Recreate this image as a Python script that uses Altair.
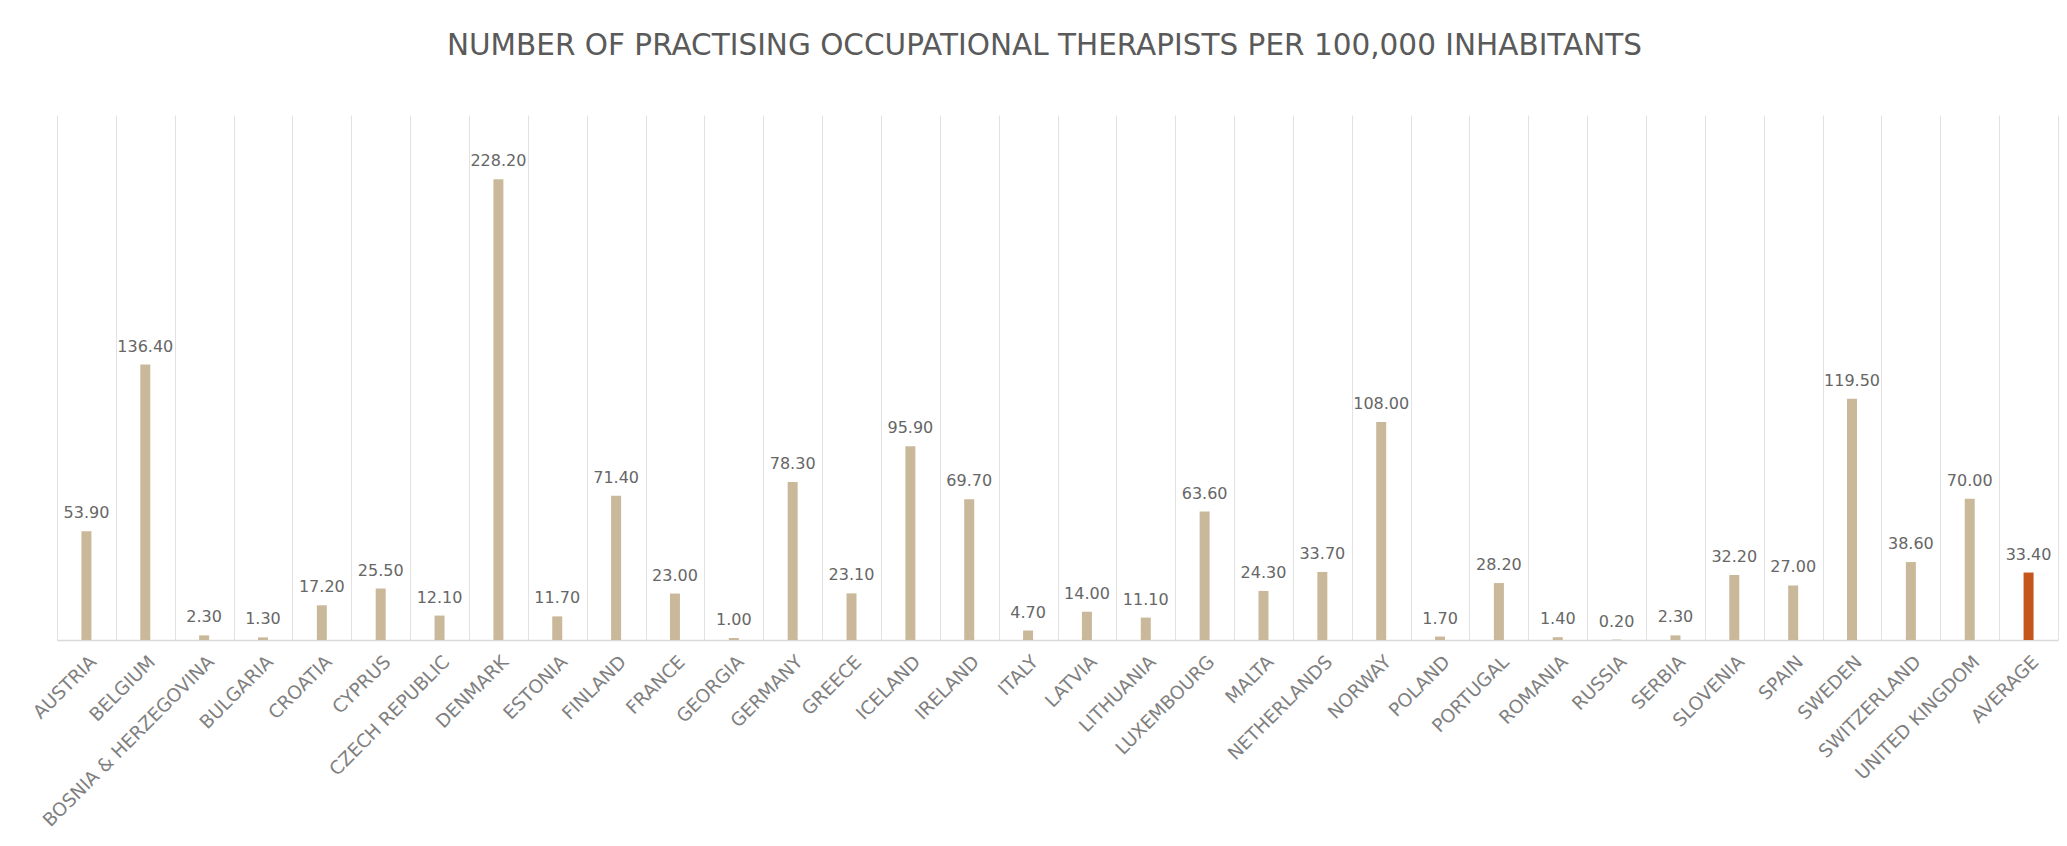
import altair as alt
import pandas as pd

countries = ["AUSTRIA", "BELGIUM", "BOSNIA & HERZEGOVINA", "BULGARIA", "CROATIA", "CYPRUS",
             "CZECH REPUBLIC", "DENMARK", "ESTONIA", "FINLAND", "FRANCE", "GEORGIA", "GERMANY",
             "GREECE", "ICELAND", "IRELAND", "ITALY", "LATVIA", "LITHUANIA", "LUXEMBOURG",
             "MALTA", "NETHERLANDS", "NORWAY", "POLAND", "PORTUGAL", "ROMANIA", "RUSSIA",
             "SERBIA", "SLOVENIA", "SPAIN", "SWEDEN", "SWITZERLAND", "UNITED KINGDOM", "AVERAGE"]
values = [53.9, 136.4, 2.3, 1.3, 17.2, 25.5, 12.1, 228.2, 11.7, 71.4, 23.0, 1.0, 78.3,
          23.1, 95.9, 69.7, 4.7, 14.0, 11.1, 63.6, 24.3, 33.7, 108.0, 1.7, 28.2, 1.4, 0.2,
          2.3, 32.2, 27.0, 119.5, 38.6, 70.0, 33.4]
kinds = ["country"] * 33 + ["average"]

df = pd.DataFrame({"country": countries, "value": values, "kind": kinds})

FONT = "DejaVu Sans"
W, H = 2001, 525

x_enc = alt.X("country:N", sort=countries, title=None,
              scale=alt.Scale(paddingInner=0, paddingOuter=0),
              axis=alt.Axis(labelAngle=315, labelFontSize=18.5, labelColor="#808080",
                            labelFont=FONT, labelPadding=12, ticks=False, labelLimit=400,
                            domainColor="#d9d9d9", domainWidth=1.5,
                            grid=True, gridColor="#e2e2e2", tickBand="extent",
                            labelAlign="right", labelBaseline="top"))
y_enc = alt.Y("value:Q", scale=alt.Scale(domain=[0, 241]), axis=None)

base = alt.Chart(df)

bars = base.mark_bar(size=10).encode(
    x=x_enc,
    y=y_enc,
    color=alt.Color("kind:N", scale=alt.Scale(domain=["country", "average"],
                                              range=["#c9b99a", "#c4561b"]), legend=None),
)

labels = base.mark_text(baseline="alphabetic", dy=-13, fontSize=16, font=FONT,
                        color="#666666").encode(
    x=alt.X("country:N", sort=countries),
    y=alt.Y("value:Q"),
    text=alt.Text("value:Q", format=".2f"),
)

chart = alt.layer(bars, labels).properties(
    width=W, height=H,
    title=alt.TitleParams("NUMBER OF PRACTISING OCCUPATIONAL THERAPISTS PER 100,000 INHABITANTS",
                          font=FONT, fontSize=29.5, fontWeight="normal", color="#5a5a5a",
                          anchor="middle", offset=54, dx=-13),
    background="white",
    autosize=alt.AutoSizeParams(type="none"),
    padding={"left": 49, "top": 107, "right": 1, "bottom": 198},
).configure_view(stroke=None)

chart.save("out.html", embed_options={"renderer": "svg", "actions": False})
